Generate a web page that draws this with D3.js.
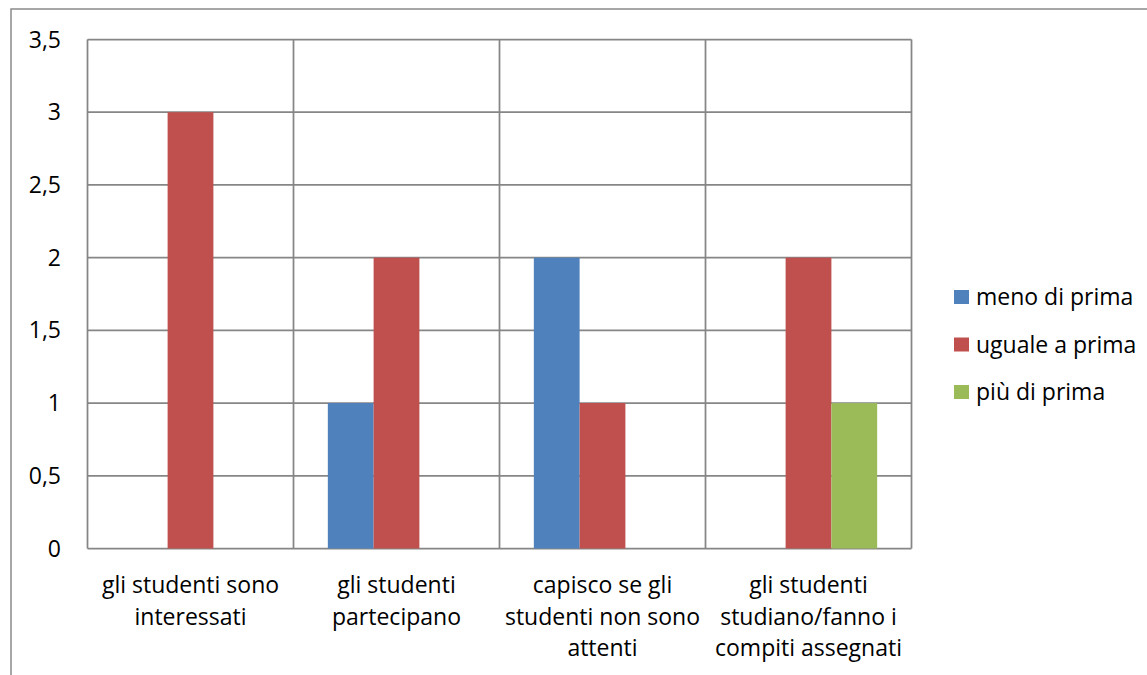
<!DOCTYPE html>
<html>
<head>
<meta charset="utf-8">
<script src="https://cdn.jsdelivr.net/npm/d3@7"></script>
<style>
  body { margin: 0; background: #fff; }
  svg { font-family: "Open Sans", "Noto Sans", sans-serif; }
</style>
</head>
<body>
<svg id="chart" width="1147" height="675"></svg>
<script>
// data
const categories = [
    ["gli studenti sono", "interessati"],
    ["gli studenti", "partecipano"],
    ["capisco se gli", "studenti non sono", "attenti"],
    ["gli studenti", "studiano/fanno i", "compiti assegnati"]
];
const seriesNames = ["meno di prima", "uguale a prima", "più di prima"];
const seriesColors = ["#4F81BD", "#C0504D", "#9BBB59"];
const meno = [0, 1, 2, 0];
const uguale = [3, 2, 1, 2];
const piu = [0, 0, 0, 1];
const yTicks = [0, 0.5, 1, 1.5, 2, 2.5, 3, 3.5];

const values = [meno, uguale, piu];
const fontSize = 23;

const svg = d3.select("#chart");

// outer chart border (right/bottom off-screen)
svg.append("rect")
    .attr("x", 11).attr("y", 9)
    .attr("width", 1200).attr("height", 700)
    .attr("fill", "none")
    .attr("stroke", "#8a8a8a")
    .attr("stroke-width", 1.5);

const plot = { left: 87.5, top: 39.5, right: 911.5, bottom: 548.5 };

const y = d3.scaleLinear().domain([0, 3.5]).range([plot.bottom, plot.top]);
const x = d3.scaleBand()
    .domain(d3.range(categories.length))
    .range([plot.left, plot.right])
    .paddingInner(0).paddingOuter(0);

// bar width for gap 150%
const bw = x.bandwidth() / (seriesNames.length + 1.5);
const xs = d3.scaleBand()
    .domain(d3.range(seriesNames.length))
    .range([bw * 0.75, bw * 0.75 + bw * seriesNames.length]);

const g = svg.append("g");

// horizontal gridlines
g.selectAll("line.hgrid")
    .data(yTicks)
    .enter().append("line")
    .attr("class", "hgrid")
    .attr("x1", plot.left).attr("x2", plot.right)
    .attr("y1", d => y(d)).attr("y2", d => y(d))
    .attr("stroke", "#868686")
    .attr("stroke-width", 1.75);

// vertical category separators
g.selectAll("line.vgrid")
    .data(d3.range(categories.length + 1))
    .enter().append("line")
    .attr("class", "vgrid")
    .attr("x1", d => d < categories.length ? x(d) : plot.right)
    .attr("x2", d => d < categories.length ? x(d) : plot.right)
    .attr("y1", plot.top).attr("y2", plot.bottom)
    .attr("stroke", "#868686")
    .attr("stroke-width", 1.75);

// bars
values.forEach((series, si) => {
    g.selectAll("rect.s" + si)
        .data(series)
        .enter().append("rect")
        .attr("class", "s" + si)
        .attr("x", (d, i) => x(i) + xs(si))
        .attr("width", xs.bandwidth())
        .attr("y", d => y(d))
        .attr("height", d => y(0) - y(d))
        .attr("fill", seriesColors[si]);
});

// y labels
svg.selectAll("text.ytick")
    .data(yTicks)
    .enter().append("text")
    .attr("class", "ytick")
    .attr("x", 61)
    .attr("y", d => y(d))
    .attr("dy", "0.35em")
    .attr("text-anchor", "end")
    .attr("font-size", fontSize)
    .attr("fill", "#000")
    .text(d => d3.format(".1~f")(d).replace(".", ","));

// x labels
const xl = svg.selectAll("text.xlab")
    .data(categories)
    .enter().append("text")
    .attr("class", "xlab")
    .attr("text-anchor", "middle")
    .attr("font-size", fontSize)
    .attr("fill", "#000");
xl.selectAll("tspan")
    .data((d, i) => d.map(s => ({ s, i })))
    .enter().append("tspan")
    .attr("x", d => x(d.i) + x.bandwidth() / 2)
    .attr("y", (d, j) => 593 + j * 31.5)
    .text(d => d.s);

// legend
const legend = svg.append("g").attr("transform", "translate(954,0)");
const rows = legend.selectAll("g")
    .data(seriesNames)
    .enter().append("g")
    .attr("transform", (d, i) => `translate(0,${297 + i * 47.5})`);
rows.append("rect")
    .attr("x", 0).attr("y", -7)
    .attr("width", 15).attr("height", 14)
    .attr("fill", (d, i) => seriesColors[i]);
rows.append("text")
    .attr("x", 22)
    .attr("dy", "0.35em")
    .attr("font-size", fontSize)
    .attr("fill", "#000")
    .text(d => d);
</script>
</body>
</html>
